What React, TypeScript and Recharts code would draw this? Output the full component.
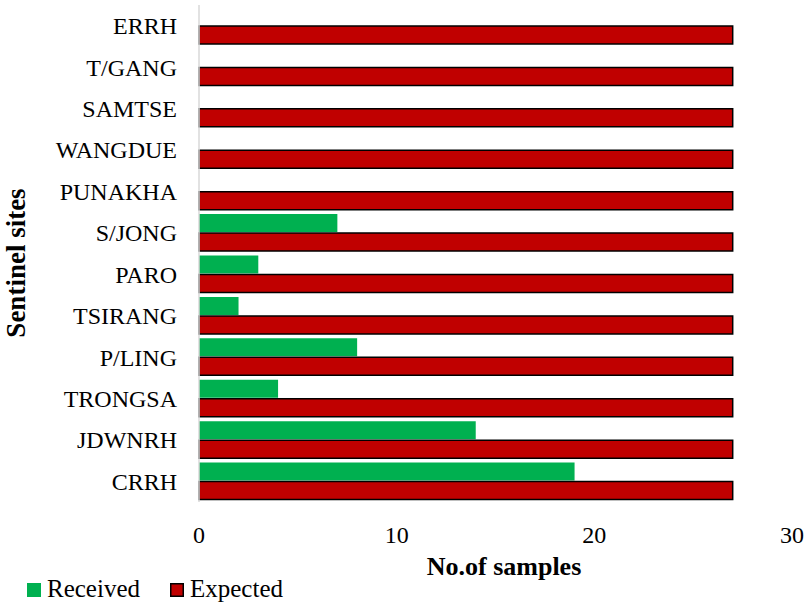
import React from "react";
import { BarChart, Bar, XAxis, YAxis } from "recharts";

const sites = ["ERRH", "T/GANG", "SAMTSE", "WANGDUE", "PUNAKHA", "S/JONG", "PARO", "TSIRANG", "P/LING", "TRONGSA", "JDWNRH", "CRRH"];
const received = [0, 0, 0, 0, 0, 7, 3, 2, 8, 4, 14, 19];
const expected = [27, 27, 27, 27, 27, 27, 27, 27, 27, 27, 27, 27];
const xTicks = [0, 10, 20, 30];

const data = sites.map((site, i) => ({ site, received: received[i], expected: expected[i] }));

const font = "'Liberation Serif', 'Times New Roman', serif";
const GREEN = "#00B050";
const RED = "#C00000";

const App = () => {
    return (
        <div style={{ position: "absolute", left: 0, top: 0, width: 809, height: 606, background: "#fff", fontFamily: font }}>
            <BarChart
                width={809}
                height={606}
                data={data}
                layout="vertical"
                margin={{ top: 5, right: 17, bottom: 74, left: 0 }}
                barCategoryGap={2}
                barGap={1}
            >
                <XAxis
                    type="number"
                    domain={[0, 30]}
                    ticks={xTicks}
                    axisLine={false}
                    tickLine={false}
                    tickSize={0}
                    tickMargin={24}
                    height={30}
                    tick={{ fill: "#000", fontSize: 24, fontFamily: font }}
                    interval={0}
                />
                <YAxis
                    type="category"
                    dataKey="site"
                    width={199}
                    axisLine={{ stroke: "#d9d9d9", strokeWidth: 1.5 }}
                    tickLine={false}
                    tickSize={0}
                    tickMargin={22}
                    interval={0}
                    tick={{ fill: "#000", fontSize: 24, fontFamily: font }}
                />
                <Bar dataKey="received" name="Received" fill={GREEN} isAnimationActive={false} />
                <Bar dataKey="expected" name="Expected" fill={RED} stroke="#000" strokeWidth={1.5} isAnimationActive={false} />
            </BarChart>

            {/* axis titles and legend */}
            <svg width={809} height={606} style={{ position: "absolute", left: 0, top: 0, pointerEvents: "none" }}>
                <g fontFamily={font} fill="#000">
                    <text x={504} y={575} textAnchor="middle" fontWeight="bold" fontSize={26}>
                        No.of samples
                    </text>
                    <text x={25} y={263} textAnchor="middle" fontWeight="bold" fontSize={27} transform="rotate(-90, 25, 263)">
                        Sentinel sites
                    </text>
                    <rect x={27} y={583} width={14} height={14} fill={GREEN} />
                    <text x={47} y={597} fontSize={25}>Received</text>
                    <rect x={170.75} y={583.75} width={12.5} height={12.5} fill={RED} stroke="#000" strokeWidth={1.5} />
                    <text x={190} y={597} fontSize={25}>Expected</text>
                </g>
            </svg>
        </div>
    );
};

export default App;
